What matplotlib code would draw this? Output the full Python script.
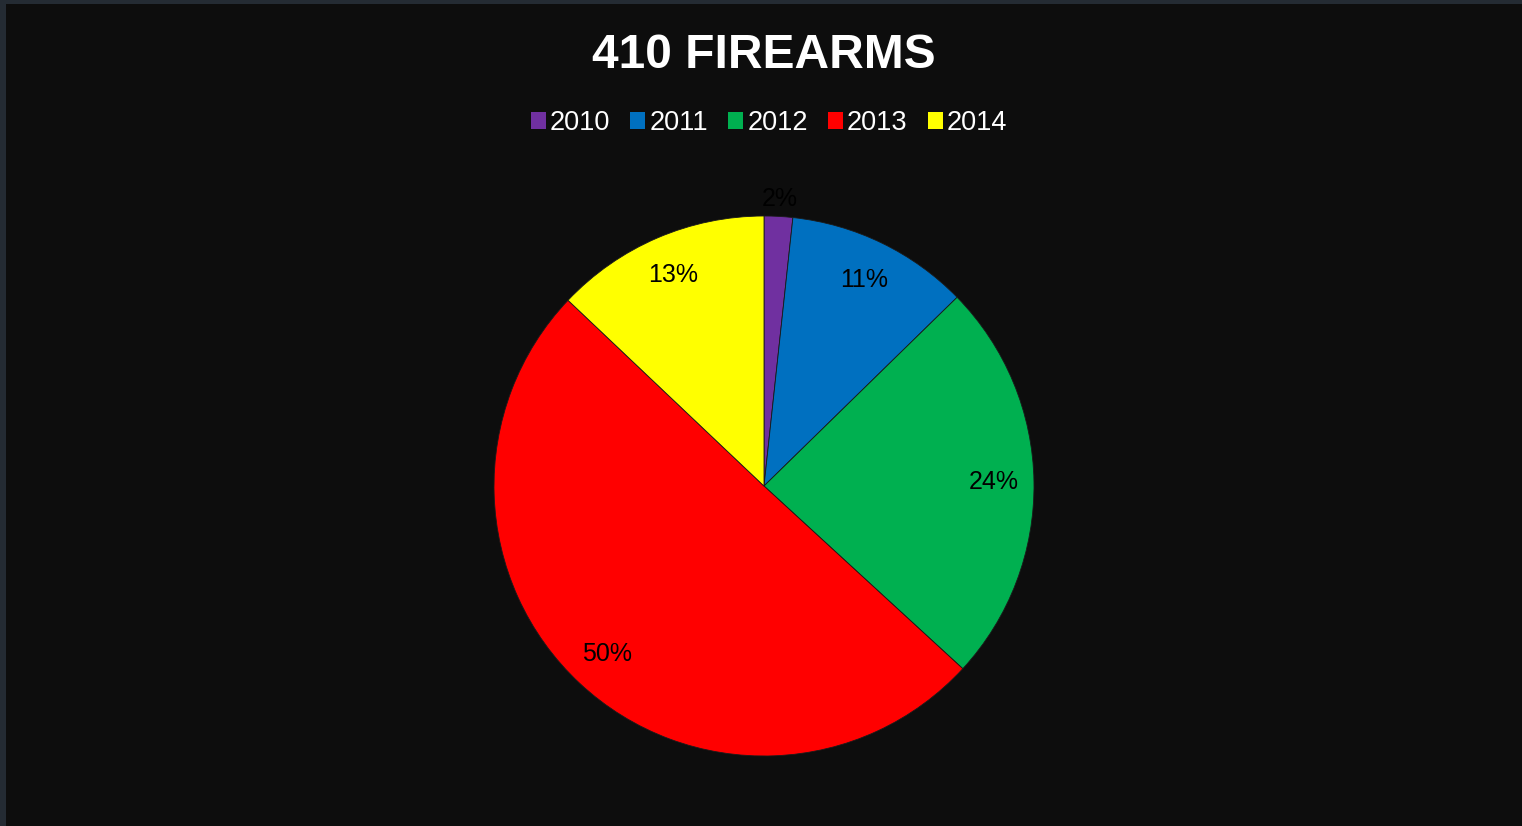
import numpy as np
import matplotlib.pyplot as plt
from matplotlib.patches import Rectangle, Patch

# data
years = ["2010", "2011", "2012", "2013", "2014"]
counts = [7, 45, 99, 206, 53]
colors = ["#7030a0", "#0070c0", "#00b050", "#ff0000", "#ffff00"]
title = "410 FIREARMS"

plt.rcParams['font.family'] = ['Liberation Sans', 'DejaVu Sans']

W, H = 1522, 826
fig = plt.figure(figsize=(W / 100, H / 100), dpi=100)
fig.patch.set_facecolor("#242b33")
# dark chart area, border strip on top and left
fig.patches.append(Rectangle((6 / W, 0), 1, (H - 4) / H, transform=fig.transFigure,
                             facecolor="#0d0d0d", edgecolor="none", zorder=-5))

# pie axes: center (764, 486), radius 270 px
cx, cy, r = 764, 486, 270
ax = fig.add_axes([(cx - r) / W, (H - cy - r) / H, 2 * r / W, 2 * r / H])
ax.set_zorder(2)
ax.set_facecolor("none")
wedges, _ = ax.pie(counts, colors=colors, startangle=90, counterclock=False,
                   radius=1, wedgeprops=dict(edgecolor="#1a1a1a", linewidth=0.6))
ax.set_xlim(-1, 1)
ax.set_ylim(-1, 1)
ax.set_aspect("equal")
ax.axis("off")

total = sum(counts)
for w, c in zip(wedges, counts):
    pct = 100 * c / total
    mid = np.deg2rad((w.theta1 + w.theta2) / 2)
    d = 1.065 if pct < 5 else 0.85
    ax.text(d * np.cos(mid), d * np.sin(mid), f"{pct:.0f}%", ha="center", va="center",
            fontsize=18, color="black")

fig.text(764 / W, 1 - 55 / H, title, ha="center", va="center", fontsize=34.5,
         fontweight="bold", color="white")

handles = [Patch(facecolor=c, edgecolor="none") for c in colors]
leg = fig.legend(handles, years, loc="center", bbox_to_anchor=(769 / W, 1 - 123 / H),
                 ncol=5, frameon=False, fontsize=19.5, labelcolor="white",
                 handlelength=0.55, handleheight=0.55, handletextpad=0.15,
                 columnspacing=0.75)

fig.savefig("out.png", dpi=100, facecolor=fig.get_facecolor())
